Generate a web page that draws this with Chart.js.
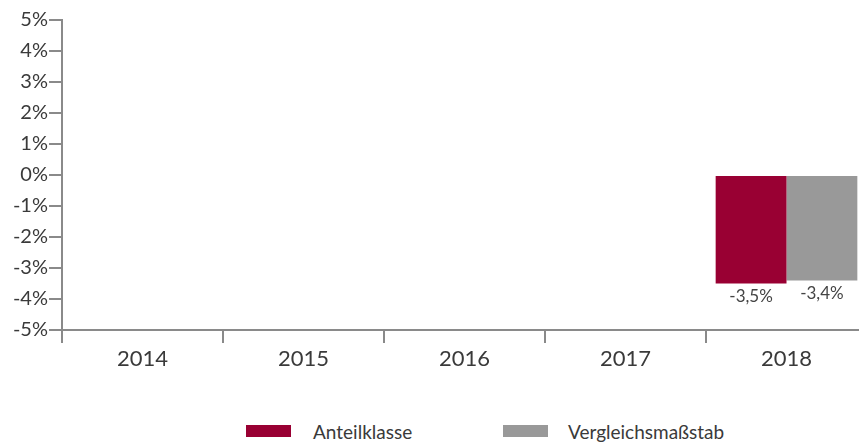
<!DOCTYPE html>
<html>
<head>
<meta charset="utf-8">
<script src="https://cdn.jsdelivr.net/npm/chart.js@4/dist/chart.umd.min.js"></script>
<style>
  html, body { margin: 0; padding: 0; background: #fff; }
  #wrap { position: relative; width: 859px; height: 445px; overflow: hidden; }
  #box { position: absolute; left: 0; top: 0; width: 867px; height: 380px; }
  .leg { position: absolute; top: 418px; font-family: Lato, sans-serif; font-size: 19px; color: #3a3a3a; white-space: nowrap; }
  .leg span.sw { position: absolute; top: 7px; width: 45px; height: 12px; }
  .leg span.tx { position: absolute; top: 2px; }
</style>
</head>
<body>
<div id="wrap">
  <div id="box"><canvas id="c"></canvas></div>
  <div id="legend"></div>
</div>
<script>
const categories = ['2014', '2015', '2016', '2017', '2018'];
const seriesNames = ['Anteilklasse', 'Vergleichsmaßstab'];
const anteilklasse = [null, null, null, null, -3.5];
const vergleich = [null, null, null, null, -3.4];
const yTicks = [-5, -4, -3, -2, -1, 0, 1, 2, 3, 4, 5];
const colors = ['#990033', '#999999'];

const AXIS = '#8a8a8a';
const TEXT = '#3a3a3a';
const fmt = v => String(v).replace('.', ',') + '%';

const labelPlugin = {
  id: 'valLabels',
  afterDatasetsDraw(chart) {
    const ctx = chart.ctx;
    ctx.save();
    ctx.font = '17px Lato, sans-serif';
    ctx.fillStyle = '#444';
    ctx.textAlign = 'center';
    ctx.textBaseline = 'middle';
    chart.data.datasets.forEach((ds, i) => {
      chart.getDatasetMeta(i).data.forEach((bar, j) => {
        const v = ds.data[j];
        if (v === null || v === undefined) return;
        ctx.fillText(fmt(v), bar.x, bar.y + (v < 0 ? 13 : -13));
      });
    });
    ctx.restore();
  }
};

new Chart(document.getElementById('c'), {
  type: 'bar',
  data: {
    labels: categories,
    datasets: [
      { label: seriesNames[0], data: anteilklasse, backgroundColor: colors[0] },
      { label: seriesNames[1], data: vergleich, backgroundColor: colors[1] }
    ]
  },
  options: {
    responsive: true,
    maintainAspectRatio: false,
    animation: false,
    layout: { padding: { top: 20, right: 0, bottom: 0, left: 0 } },
    datasets: { bar: { categoryPercentage: 0.88, barPercentage: 1.0 } },
    plugins: { legend: { display: false }, tooltip: { enabled: false } },
    scales: {
      x: {
        offset: true,
        grid: { display: true, drawOnChartArea: false, drawTicks: true, tickLength: 13, color: AXIS, lineWidth: 2, offset: true },
        border: { display: true, color: AXIS, width: 2 },
        ticks: { font: { family: 'Lato, sans-serif', size: 22 }, color: TEXT, padding: 3, maxRotation: 0 },
        afterFit(s) { s.height = 50; }
      },
      y: {
        min: -5, max: 5,
        afterBuildTicks(s) { s.ticks = yTicks.map(v => ({ value: v })); },
        grid: { display: true, drawOnChartArea: false, drawTicks: true, tickLength: 13, color: AXIS, lineWidth: 2 },
        border: { display: true, color: AXIS, width: 2 },
        ticks: { font: { family: 'Lato, sans-serif', size: 20 }, color: TEXT, padding: 1, callback: v => v + '%' },
        afterFit(s) { s.width = 62; }
      }
    }
  },
  plugins: [labelPlugin]
});

const legendPos = [246, 503];
const leg = document.getElementById('legend');
seriesNames.forEach((name, i) => {
  const d = document.createElement('div');
  d.className = 'leg';
  d.style.left = legendPos[i] + 'px';
  d.innerHTML = '<span class="sw" style="left:0;background:' + colors[i] + '"></span><span class="tx" style="left:' + (i === 0 ? 67 : 65) + 'px">' + name + '</span>';
  leg.appendChild(d);
});
</script>
</body>
</html>
